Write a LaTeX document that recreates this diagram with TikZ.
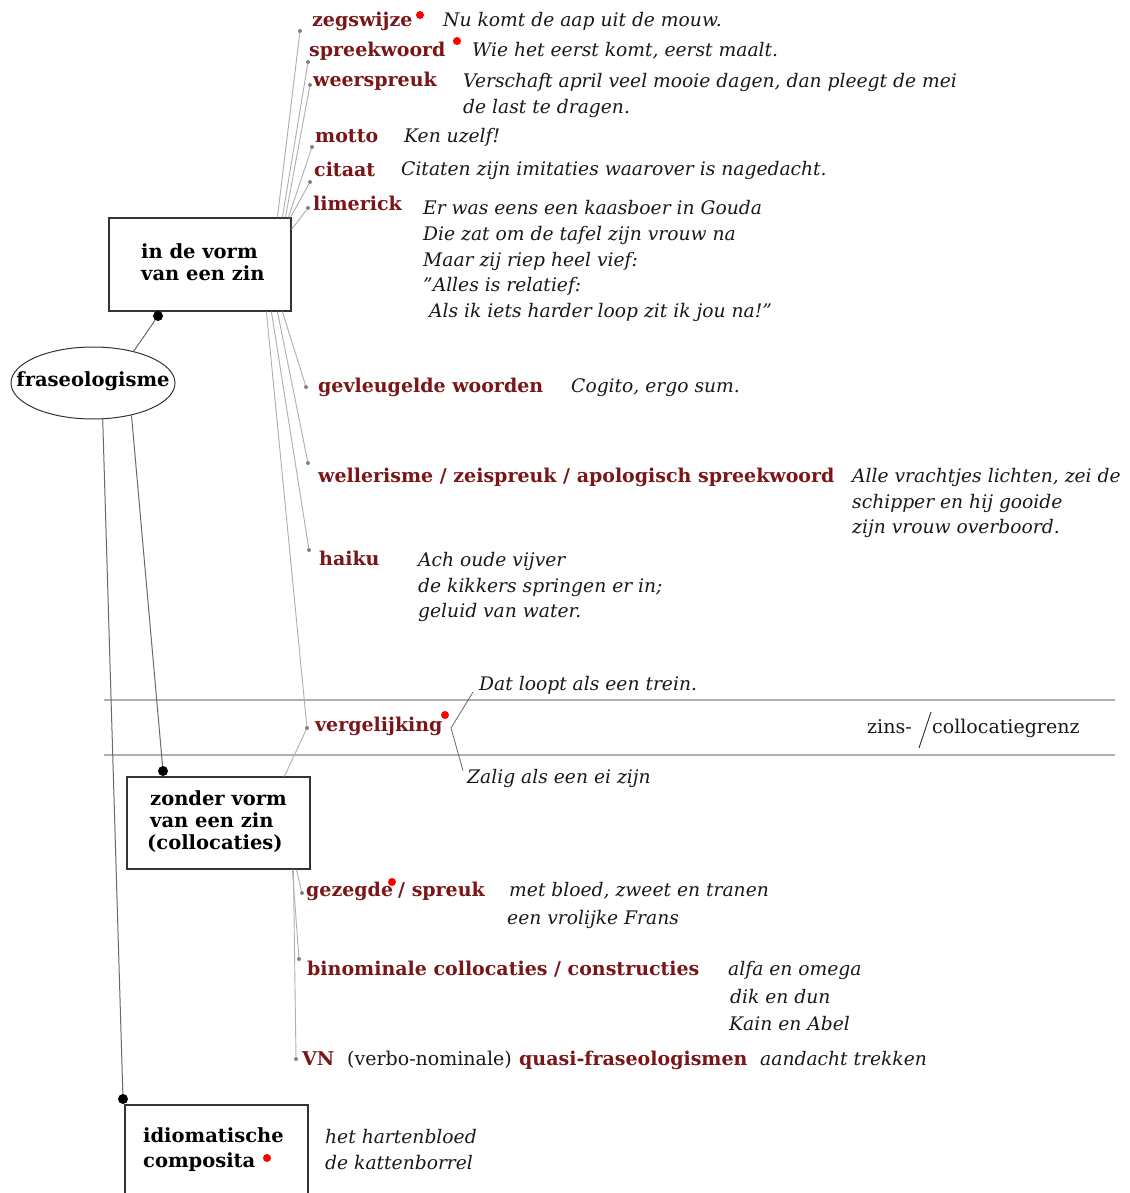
\documentclass[tikz,border=0pt]{standalone}
\usepackage{fontspec}
\setmainfont{DejaVu Serif}
\usetikzlibrary{shapes.geometric}
\definecolor{dred}{RGB}{122,22,24}
\definecolor{gline}{RGB}{175,175,175}
\definecolor{dline}{RGB}{105,105,105}
\definecolor{gdotc}{RGB}{130,130,130}
\begin{document}
\begin{tikzpicture}[x=1pt,y=-1pt,
  box/.style={draw=black!80, line width=1.2pt, rectangle, inner sep=0pt},
  boxtxt/.style={font=\bfseries\fontsize{19.5}{23}\selectfont, text=black, anchor=base west, inner sep=0pt},
  lbl/.style={font=\bfseries\fontsize{19}{23}\selectfont, text=dred, anchor=base west, inner sep=0pt},
  ex/.style={font=\itshape\fontsize{18.7}{23}\selectfont, text=black!90, anchor=base west, inner sep=0pt},
  up/.style={font=\fontsize{19}{23}\selectfont, text=black!90, anchor=base west, inner sep=0pt},
  gdot/.style={circle, fill=gdotc, inner sep=0pt, minimum size=4pt},
  bdot/.style={circle, fill=black, inner sep=0pt, minimum size=10pt},
  rdot/.style={circle, fill=red, inner sep=0pt, minimum size=8pt},
  gl/.style={draw=gline, line width=0.9pt},
  dl/.style={draw=dline, line width=1pt}]
\useasboundingbox (0,0) rectangle (1129,1193);
\fill[white] (0,0) rectangle (1129,1193);

% boundary lines
\draw[gline, line width=1.8pt] (104,700) -- (1115,700);
\draw[gline, line width=1.8pt] (104,755) -- (1115,755);

% main nodes
\node[ellipse, draw=black!80, line width=1pt, minimum width=164pt, minimum height=72pt, inner sep=0pt] (ell) at (93,383) {};
\node[font=\bfseries\fontsize{19.5}{23}\selectfont, inner sep=0pt] (elltxt) at (93,381) {fraseologisme};
\node[box, minimum width=182pt, minimum height=93pt] (b1) at (200,264.5) {};
\node[boxtxt] (b1a) at (141,258) {in de vorm};
\node[boxtxt] (b1b) at (141,280) {van een zin};
\node[box, minimum width=183pt, minimum height=92pt] (b2) at (218.5,823) {};
\node[boxtxt] (b2a) at (150,805) {zonder vorm};
\node[boxtxt] (b2b) at (150,827) {van een zin};
\node[boxtxt] (b2c) at (147,849) {(collocaties)};
\node[box, minimum width=183pt, minimum height=110pt] (b3) at (216.5,1160) {};
\node[boxtxt] (b3a) at (143,1142) {idiomatische};
\node[boxtxt] (b3b) at (143,1167) {composita};
\node[rdot] (r5) at (267,1158) {};

% black dots
\node[bdot] (k1) at (158,316) {};
\node[bdot] (k2) at (163,771) {};
\node[bdot] (k3) at (123,1099) {};
\draw[dl] (ell.38) -- (k1);
\draw[dl] (ell.-40) -- (k2);
\draw[dl] (ell.-75) -- (k3);

% gray item dots
\node[gdot] (dzeg) at (300,31) {};
\node[gdot] (dspr) at (308,62) {};
\node[gdot] (dwee) at (310,85) {};
\node[gdot] (dmot) at (312,147) {};
\node[gdot] (dcit) at (310,182) {};
\node[gdot] (dlim) at (308,208) {};
\node[gdot] (dgev) at (306,387) {};
\node[gdot] (dwel) at (308,463) {};
\node[gdot] (dhai) at (309,550) {};
\node[gdot] (dver) at (307,728) {};
\node[gdot] (dgez) at (302,893) {};
\node[gdot] (dbin) at (299,959) {};
\node[gdot] (dvn) at (296,1059) {};

% gray connectors
\draw[gl] ([xshift=169pt]b1.north west) -- (dzeg);
\draw[gl] ([xshift=174pt]b1.north west) -- (dspr);
\draw[gl] ([xshift=177pt]b1.north west) -- (dwee);
\draw[gl] ([xshift=180pt]b1.north west) -- (dmot);
\draw[gl] ([xshift=182pt]b1.north west) -- (dcit);
\draw[gl] ([yshift=-12pt]b1.north east) -- (dlim);
\draw[gl] ([xshift=174pt]b1.south west) -- (dgev);
\draw[gl] ([xshift=169pt]b1.south west) -- (dwel);
\draw[gl] ([xshift=163pt]b1.south west) -- (dhai);
\draw[gl] ([xshift=158pt]b1.south west) -- (dver);
\draw[gl] ([xshift=158pt]b2.north west) -- (dver);
\draw[gl] ([xshift=170pt]b2.south west) -- (dgez);
\draw[gl] ([xshift=166pt]b2.south west) -- (dbin);
\draw[gl] ([xshift=167pt]b2.south west) -- (dvn);

% labels
\node[lbl] (zeg) at (312,27) {zegswijze};
\node[rdot] (r1) at (420,15) {};
\node[lbl] (spr) at (309,57) {spreekwoord};
\node[rdot] (r2) at (457,41) {};
\node[lbl] (wee) at (313,87) {weerspreuk};
\node[lbl] (mot) at (315,143) {motto};
\node[lbl] (cit) at (314,177) {citaat};
\node[lbl] (lim) at (313,211) {limerick};
\node[lbl] (gev) at (318,392) {gevleugelde woorden};
\node[lbl] (wel) at (318,482) {wellerisme / zeispreuk / apologisch spreekwoord};
\node[lbl] (hai) at (319,565) {haiku};
\node[lbl] (ver) at (315,731) {vergelijking};
\node[rdot] (r3) at (445,715) {};
\node[lbl] (gez) at (306,896) {gezegde};
\node[rdot] (r4) at (392,882) {};
\node[lbl] (gez2) at (398,896) {/ spreuk};
\node[lbl] (bin) at (307,975) {binominale collocaties / constructies};
\node[lbl] (vn) at (302,1065) {VN};
\node[up] (vn2) at (347,1065) {(verbo-nominale)};
\node[lbl] (vn3) at (519,1065) {quasi-fraseologismen};

% examples
\node[ex] (e1) at (443,27) {Nu komt de aap uit de mouw.};
\node[ex] (e2) at (472,57) {Wie het eerst komt, eerst maalt.};
\node[ex] (e3a) at (463,88) {Verschaft april veel mooie dagen, dan pleegt de mei};
\node[ex] (e3b) at (463,114) {de last te dragen.};
\node[ex] (e4) at (404,143) {Ken uzelf!};
\node[ex] (e5) at (401,176) {Citaten zijn imitaties waarover is nagedacht.};
\node[ex] (e6a) at (423,214) {Er was eens een kaasboer in Gouda};
\node[ex] (e6b) at (423,240) {Die zat om de tafel zijn vrouw na};
\node[ex] (e6c) at (423,266) {Maar zij riep heel vief:};
\node[ex] (e6d) at (423,291) {"Alles is relatief:};
\node[ex] (e6e) at (429,317) {Als ik iets harder loop zit ik jou na!"};
\node[ex] (e7) at (571,392) {Cogito, ergo sum.};
\node[ex] (e8a) at (852,482) {Alle vrachtjes lichten, zei de};
\node[ex] (e8b) at (852,508) {schipper en hij gooide};
\node[ex] (e8c) at (852,533) {zijn vrouw overboord.};
\node[ex] (e9a) at (418,566) {Ach oude vijver};
\node[ex] (e9b) at (418,592) {de kikkers springen er in;};
\node[ex] (e9c) at (418,617) {geluid van water.};
\node[ex] (e10a) at (479,690) {Dat loopt als een trein.};
\node[ex] (e10b) at (467,783) {Zalig als een ei zijn};
\node[ex] (e11a) at (509,896) {met bloed, zweet en tranen};
\node[ex] (e11b) at (507,924) {een vrolijke Frans};
\node[ex] (e12a) at (728,975) {alfa en omega};
\node[ex] (e12b) at (730,1003) {dik en dun};
\node[ex] (e12c) at (729,1030) {Kain en Abel};
\node[ex] (e13) at (760,1065) {aandacht trekken};
\node[ex] (e14a) at (325,1143) {het hartenbloed};
\node[ex] (e14b) at (325,1169) {de kattenborrel};

% vergelijking bracket
\coordinate (brv) at (451,728);
\draw[draw=dline, line width=0.8pt] ([xshift=-6pt,yshift=2pt]e10a.south west) -- (brv) -- ([xshift=-4pt,yshift=-2pt]e10b.north west);

% zins-/collocatiegrenz
\node[up] (zins) at (867,733) {zins-};
\node[up] (coll) at (932,733) {collocatiegrenz};
\draw[draw=black!85, line width=0.9pt] ([xshift=-1pt,yshift=21pt]coll.base west) -- ([xshift=-13pt,yshift=-15pt]coll.base west);
\end{tikzpicture}
\end{document}
